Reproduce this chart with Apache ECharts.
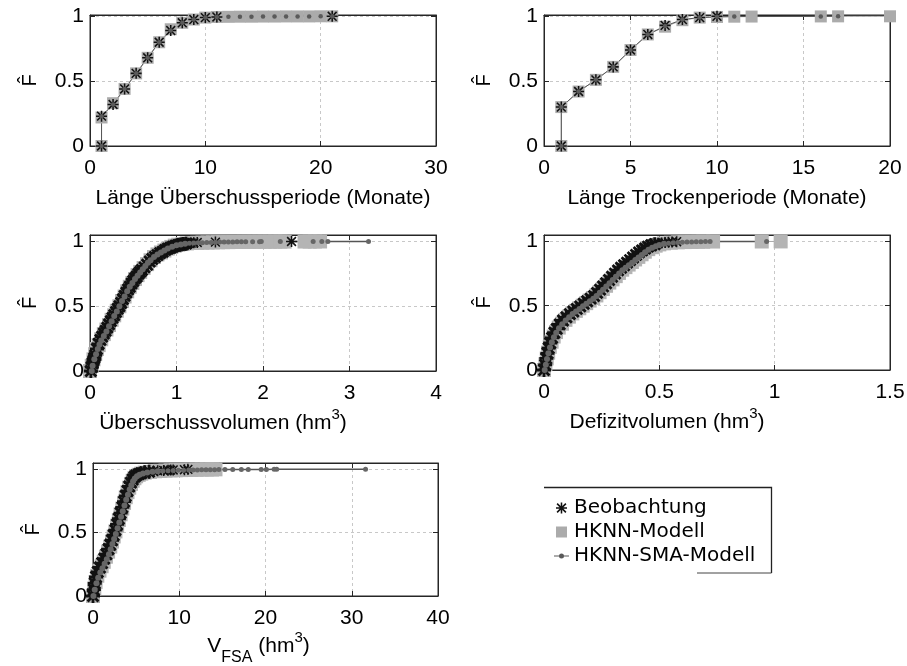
<!DOCTYPE html>
<html><head><meta charset="utf-8">
<script src="https://cdn.jsdelivr.net/npm/echarts@6/dist/echarts.min.js"></script>
<style>html,body{margin:0;padding:0;background:#fff}#c{width:907px;height:666px}</style>
</head><body><div id="c"></div>
<script>
// ---------- data ----------
const legendNames = ['Beobachtung', 'HKNN-Modell', 'HKNN-SMA-Modell'];
const axisTitles = ['Länge Überschussperiode (Monate)', 'Länge Trockenperiode (Monate)', 'Überschussvolumen (hm{sup|3})', 'Defizitvolumen (hm{sup|3})', 'V{sub|FSA} (hm{sup|3})'];
const xMaxes = [30, 20, 4, 1.5, 40];
const xIntervals = [10, 5, 1, 0.5, 10];
const yMaxes = [1.01, 1.01, 1.05, 1.05, 1.05];

// Panel 1: Länge Überschussperiode
const obs1X = [1, 1, 2, 3, 4, 5, 6, 7, 8, 9, 10, 11, 21];
const obs1Y = [0, 0.23, 0.32, 0.44, 0.56, 0.68, 0.80, 0.89, 0.95, 0.975, 0.99, 0.995, 1];
const hknn1X = [1, 1, 2, 3, 4, 5, 6, 7, 8, 9, 10, 11, 12, 13, 14, 15, 16, 17, 18, 19, 20, 21];
const hknn1Y = [0, 0.22, 0.33, 0.44, 0.56, 0.68, 0.80, 0.90, 0.95, 0.975, 0.99, 0.995, 0.996, 0.997, 0.997, 0.998, 0.998, 0.999, 0.999, 0.999, 1, 1];
const sma1X = [1, 1, 2, 3, 4, 5, 6, 7, 8, 9, 10, 11, 12, 13, 14, 15, 16, 17, 18, 19, 20, 21];
const sma1Y = [0, 0.23, 0.32, 0.44, 0.56, 0.68, 0.80, 0.89, 0.95, 0.975, 0.99, 0.995, 0.996, 0.997, 0.997, 0.998, 0.998, 0.999, 0.999, 0.999, 1, 1];

// Panel 2: Länge Trockenperiode
const obs2X = [1, 1, 2, 3, 4, 5, 6, 7, 8, 9, 10];
const obs2Y = [0, 0.30, 0.42, 0.51, 0.61, 0.74, 0.86, 0.93, 0.975, 0.99, 1];
const hknn2X = [1, 1, 2, 3, 4, 5, 6, 7, 8, 9, 10, 11, 12, 16, 17, 20];
const hknn2Y = [0, 0.30, 0.42, 0.51, 0.61, 0.74, 0.86, 0.92, 0.97, 0.99, 0.995, 0.997, 0.998, 0.999, 0.9995, 1];
const sma2X = [1, 1, 2, 3, 4, 5, 6, 7, 8, 9, 10, 11, 16, 17];
const sma2Y = [0, 0.30, 0.42, 0.51, 0.61, 0.74, 0.86, 0.925, 0.975, 0.99, 0.996, 0.998, 0.999, 1];

// Panel 3: Überschussvolumen
const obs3X = [0.01,0.02,0.03,0.04,0.05,0.06,0.08,0.10,0.12,0.14,0.16,0.18,0.20,0.22,0.24,0.26,0.28,0.30,0.32,0.34,0.36,0.38,0.40,0.42,0.44,0.46,0.48,0.50,0.52,0.54,0.56,0.58,0.60,0.63,0.66,0.69,0.72,0.75,0.78,0.81,0.84,0.87,0.90,0.93,0.96,0.99,1.02,1.05,1.08,1.11,1.14,1.17,1.20,1.24,1.45,2.33];
const obs3Y = [0,0.03,0.06,0.08,0.10,0.12,0.17,0.21,0.24,0.265,0.29,0.31,0.335,0.36,0.385,0.41,0.43,0.455,0.48,0.50,0.525,0.555,0.58,0.605,0.63,0.65,0.675,0.695,0.715,0.73,0.75,0.765,0.78,0.80,0.82,0.845,0.865,0.88,0.895,0.91,0.92,0.935,0.945,0.952,0.96,0.967,0.972,0.977,0.98,0.983,0.986,0.988,0.99,0.992,0.995,1];
const hknn3X = [0.00,0.02,0.04,0.06,0.08,0.10,0.13,0.16,0.19,0.22,0.25,0.28,0.31,0.34,0.37,0.40,0.43,0.46,0.49,0.52,0.55,0.58,0.62,0.66,0.70,0.74,0.78,0.82,0.86,0.90,0.94,0.98,1.02,1.07,1.12,1.18,1.24,1.30,1.36,1.42,1.48,1.54,1.60,1.66,1.72,1.78,1.84,1.90,1.96,2.02,2.08,2.14,2.20,2.25,2.48,2.54,2.60,2.66];
const hknn3Y = [0,0.04,0.09,0.13,0.17,0.20,0.245,0.285,0.32,0.355,0.395,0.43,0.465,0.50,0.54,0.575,0.615,0.65,0.68,0.71,0.74,0.765,0.795,0.825,0.855,0.88,0.90,0.915,0.93,0.945,0.958,0.968,0.975,0.98,0.985,0.988,0.99,0.991,0.992,0.993,0.994,0.995,0.995,0.996,0.996,0.997,0.997,0.997,0.998,0.998,0.998,0.999,0.999,0.999,0.9995,0.9995,1,1];
const sma3X = [0.02,0.03,0.05,0.07,0.09,0.11,0.13,0.16,0.19,0.22,0.25,0.28,0.31,0.34,0.37,0.40,0.43,0.46,0.49,0.52,0.55,0.58,0.61,0.64,0.67,0.70,0.74,0.78,0.82,0.86,0.90,0.95,1.00,1.05,1.10,1.15,1.20,1.25,1.30,1.35,1.40,1.45,1.50,1.55,1.60,1.65,1.70,1.75,1.80,1.88,1.96,1.98,2.20,2.58,2.68,2.75,3.22];
const sma3Y = [0,0.04,0.09,0.13,0.17,0.205,0.235,0.27,0.305,0.345,0.385,0.425,0.46,0.50,0.54,0.575,0.615,0.65,0.68,0.71,0.735,0.76,0.785,0.81,0.835,0.855,0.88,0.90,0.915,0.93,0.945,0.96,0.97,0.977,0.982,0.986,0.988,0.99,0.991,0.992,0.993,0.994,0.995,0.995,0.996,0.996,0.997,0.997,0.998,0.998,0.998,0.999,0.999,0.999,1,1,1];

// Panel 4: Defizitvolumen
const obs4X = [0.000,0.005,0.010,0.015,0.020,0.027,0.035,0.045,0.055,0.068,0.082,0.097,0.112,0.127,0.142,0.157,0.172,0.187,0.202,0.217,0.230,0.243,0.256,0.269,0.282,0.295,0.308,0.321,0.334,0.347,0.360,0.373,0.386,0.399,0.412,0.425,0.438,0.451,0.465,0.480,0.495,0.510,0.525,0.540,0.555,0.575];
const obs4Y = [0,0.04,0.09,0.13,0.17,0.21,0.25,0.29,0.32,0.355,0.385,0.41,0.435,0.455,0.475,0.495,0.515,0.535,0.555,0.575,0.60,0.625,0.65,0.675,0.70,0.725,0.75,0.775,0.795,0.815,0.835,0.855,0.875,0.895,0.915,0.93,0.945,0.96,0.97,0.978,0.985,0.988,0.991,0.994,0.996,0.998];
const hknn4X = [0.000,0.006,0.012,0.018,0.025,0.033,0.042,0.052,0.064,0.078,0.093,0.108,0.123,0.138,0.153,0.168,0.183,0.198,0.213,0.227,0.241,0.255,0.269,0.283,0.297,0.311,0.325,0.339,0.353,0.367,0.381,0.395,0.409,0.423,0.437,0.452,0.468,0.484,0.50,0.52,0.55,0.58,0.61,0.64,0.67,0.69,0.733,0.944,1.026];
const hknn4Y = [0,0.045,0.09,0.135,0.18,0.22,0.26,0.295,0.33,0.36,0.39,0.415,0.44,0.46,0.48,0.50,0.52,0.54,0.56,0.58,0.605,0.63,0.655,0.68,0.705,0.73,0.755,0.78,0.80,0.82,0.84,0.86,0.88,0.90,0.92,0.94,0.955,0.967,0.977,0.985,0.99,0.993,0.995,0.996,0.997,0.998,0.999,0.9995,1];
const sma4X = [0.003,0.008,0.013,0.019,0.026,0.034,0.043,0.053,0.065,0.079,0.094,0.109,0.124,0.139,0.154,0.169,0.184,0.199,0.214,0.228,0.242,0.256,0.270,0.284,0.298,0.312,0.326,0.340,0.354,0.368,0.382,0.396,0.410,0.424,0.438,0.453,0.469,0.485,0.50,0.52,0.54,0.56,0.58,0.60,0.62,0.64,0.66,0.68,0.70,0.72,0.965];
const sma4Y = [0,0.04,0.085,0.13,0.175,0.215,0.255,0.29,0.325,0.355,0.385,0.41,0.435,0.455,0.475,0.495,0.515,0.535,0.555,0.575,0.60,0.625,0.65,0.675,0.70,0.725,0.75,0.775,0.795,0.815,0.835,0.855,0.875,0.895,0.915,0.935,0.95,0.963,0.973,0.981,0.986,0.99,0.992,0.994,0.995,0.996,0.997,0.998,0.999,0.999,1];

// Panel 5: V_FSA
const obs5X = [0.0,0.1,0.2,0.35,0.55,0.8,1.05,1.3,1.55,1.8,2.0,2.2,2.4,2.6,2.8,3.0,3.2,3.4,3.6,3.8,4.0,4.2,4.4,4.6,4.8,5.0,5.3,5.6,6.0,6.5,7.0,7.5,8.2,8.7,9.0,9.3,10.6,11.0];
const obs5Y = [0,0.05,0.10,0.15,0.19,0.225,0.26,0.295,0.33,0.37,0.405,0.44,0.48,0.52,0.565,0.61,0.655,0.70,0.745,0.79,0.83,0.865,0.895,0.92,0.94,0.952,0.962,0.97,0.976,0.981,0.985,0.988,0.991,0.993,0.994,0.995,0.997,1];
const hknn5X = [0.0,0.15,0.3,0.5,0.75,1.0,1.25,1.5,1.75,2.0,2.2,2.4,2.6,2.8,3.0,3.2,3.4,3.6,3.8,4.0,4.2,4.4,4.6,4.8,5.0,5.3,5.6,6.0,6.6,7.2,7.8,8.4,9.0,9.6,10.2,10.8,11.4,12.0,12.6,13.2,13.8,14.2];
const hknn5Y = [0,0.06,0.11,0.16,0.2,0.235,0.27,0.31,0.35,0.39,0.43,0.47,0.51,0.555,0.6,0.645,0.69,0.735,0.78,0.82,0.855,0.885,0.91,0.93,0.945,0.957,0.966,0.974,0.98,0.985,0.988,0.99,0.992,0.993,0.994,0.995,0.996,0.997,0.998,0.999,0.999,1];
const sma5X = [0.05,0.2,0.4,0.6,0.85,1.1,1.35,1.6,1.85,2.05,2.25,2.45,2.65,2.85,3.05,3.25,3.45,3.65,3.85,4.05,4.25,4.45,4.65,4.85,5.1,5.4,5.8,6.3,6.9,7.5,8.1,8.7,9.3,9.9,10.5,11.1,11.6,12.1,12.6,13.1,13.6,14.1,14.6,15.3,16.2,17.2,18.0,19.5,20.1,21.0,21.3,31.6];
const sma5Y = [0,0.05,0.1,0.145,0.185,0.22,0.255,0.29,0.33,0.37,0.41,0.45,0.49,0.535,0.58,0.625,0.67,0.715,0.76,0.8,0.84,0.875,0.905,0.928,0.946,0.958,0.968,0.975,0.98,0.984,0.987,0.989,0.991,0.992,0.993,0.994,0.995,0.995,0.996,0.996,0.997,0.997,0.998,0.998,0.998,0.999,0.999,0.999,0.999,1,1,1];

// ---------- chart ----------
const STAR = 'path://M4.3,0L5.7,0L5.7,10L4.3,10Z M0,4.3L10,4.3L10,5.7L0,5.7Z M1.5,0.5L9.5,8.5L8.5,9.5L0.5,1.5Z M8.5,0.5L9.5,1.5L1.5,9.5L0.5,8.5Z';
const STAR_BOLD = 'path://M4,0L6,0L6,10L4,10Z M0,4L10,4L10,6L0,6Z M1.8,0.4L9.6,8.2L8.2,9.6L0.4,1.8Z M8.2,0.4L9.6,1.8L1.8,9.6L0.4,8.2Z';
const SQUARE = 'path://M0,0L10,0L10,10L0,10Z';
const DOTLINE = 'path://M0,6.4L15,6.4L15,7.6L0,7.6Z M10,7A2.5,2.5 0 1 1 5,7A2.5,2.5 0 1 1 10,7Z';
const FONT = '"Liberation Sans", Arial, Helvetica, sans-serif';

const zip = (xs, ys) => xs.map((x, i) => [x, ys[i]]);
const obsData = [zip(obs1X, obs1Y), zip(obs2X, obs2Y), zip(obs3X, obs3Y), zip(obs4X, obs4Y), zip(obs5X, obs5Y)];
const hknnData = [zip(hknn1X, hknn1Y), zip(hknn2X, hknn2Y), zip(hknn3X, hknn3Y), zip(hknn4X, hknn4Y), zip(hknn5X, hknn5Y)];
const smaData = [zip(sma1X, sma1Y), zip(sma2X, sma2Y), zip(sma3X, sma3Y), zip(sma4X, sma4Y), zip(sma5X, sma5Y)];

const grids = [
  {left: 90, top: 15, width: 346, height: 131},
  {left: 544, top: 15, width: 346, height: 131},
  {left: 90, top: 235, width: 346, height: 136},
  {left: 544, top: 235, width: 346, height: 135},
  {left: 93, top: 463, width: 345, height: 133}
];
const titleGap = [42, 42, 36, 36, 30];
const titleShift = [0, 0, 80, 100, 14];
const dense = [false, false, true, true, true];

const richTitle = {
  sup: {fontSize: 15, fontFamily: FONT, color: '#000', verticalAlign: 'middle', padding: [0, 0, 18, 0]},
  sub: {fontSize: 16, fontFamily: FONT, color: '#000', verticalAlign: 'middle', padding: [22, 0, 0, 0]}
};

// in the steep (dense) part of the curves the stars are drawn bolder to form the solid band
const inBand = v => v[1] < 0.985;

const xAxes = [], yAxes = [], series = [];
grids.forEach((g, i) => {
  xAxes.push({
    gridIndex: i, type: 'value', min: 0, max: xMaxes[i], interval: xIntervals[i],
    axisLine: {show: true, onZero: false, lineStyle: {color: '#262626', width: 1}},
    axisTick: {show: true, inside: true, length: 5, lineStyle: {color: '#262626'}},
    axisLabel: {fontSize: 21, color: '#000', margin: 12, fontFamily: FONT},
    splitLine: {show: true, lineStyle: {type: [3, 3], color: '#c8c8c8', width: 1}},
    name: axisTitles[i], nameLocation: 'middle', nameGap: titleGap[i],
    nameTextStyle: {fontSize: 21, color: '#000', fontFamily: FONT, padding: [0, titleShift[i], 0, 0], rich: richTitle}
  });
  xAxes.push({
    gridIndex: i, type: 'value', position: 'top', min: 0, max: xMaxes[i], interval: xIntervals[i],
    axisLine: {show: true, onZero: false, lineStyle: {color: '#262626', width: 1}},
    axisTick: {show: true, inside: true, length: 5, lineStyle: {color: '#262626'}},
    axisLabel: {show: false}, splitLine: {show: false}
  });
  yAxes.push({
    gridIndex: i, type: 'value', min: 0, max: yMaxes[i], interval: 0.5,
    axisLine: {show: true, onZero: false, lineStyle: {color: '#262626', width: 1}},
    axisTick: {show: true, inside: true, length: 5, lineStyle: {color: '#262626'}},
    axisLabel: {fontSize: 21, color: '#000', margin: 6, fontFamily: FONT, showMaxLabel: false},
    splitLine: {show: true, lineStyle: {type: [3, 3], color: '#c8c8c8', width: 1}},
    name: 'F\u0302', nameLocation: 'middle', nameRotate: 90, nameGap: 50,
    nameTextStyle: {fontSize: 20, color: '#000', fontFamily: FONT}
  });
  yAxes.push({
    gridIndex: i, type: 'value', position: 'right', min: 0, max: yMaxes[i], interval: 0.5,
    axisLine: {show: true, onZero: false, lineStyle: {color: '#262626', width: 1}},
    axisTick: {show: true, inside: true, length: 5, lineStyle: {color: '#262626'}},
    axisLabel: {show: false}, splitLine: {show: false}
  });
  const xi = 2 * i, yi = 2 * i, d = dense[i];
  series.push({
    name: 'HKNN-Modell', type: 'line', xAxisIndex: xi, yAxisIndex: yi, data: hknnData[i],
    symbol: 'rect', symbolSize: d ? 14 : 12, showAllSymbol: true, clip: false,
    itemStyle: {color: d ? '#b4b4b4' : '#ababab', borderWidth: 0},
    lineStyle: {color: '#ababab', width: 1}
  });
  series.push({
    name: 'Beobachtung', type: 'line', xAxisIndex: xi, yAxisIndex: yi, data: obsData[i],
    symbol: d ? (v => inBand(v) ? STAR_BOLD : STAR) : STAR,
    symbolSize: d ? (v => inBand(v) ? 14 : 11) : 11,
    showAllSymbol: true, clip: false,
    itemStyle: {color: '#111111', borderWidth: 0},
    lineStyle: {width: 0, opacity: 0}
  });
  series.push({
    name: 'HKNN-SMA-Modell', type: 'line', xAxisIndex: xi, yAxisIndex: yi, data: smaData[i],
    symbol: 'circle', symbolSize: d ? (v => inBand(v) ? 6 : 5) : 4.5, showAllSymbol: true, clip: false,
    itemStyle: {color: d ? '#666666' : '#5a5a5a', borderWidth: 0},
    lineStyle: {color: '#555555', width: d ? 1.5 : 1}
  });
});

const chart = echarts.init(document.getElementById('c'), null, {renderer: 'canvas'});
chart.setOption({
  animation: false,
  backgroundColor: '#ffffff',
  grid: grids.map(g => Object.assign({show: true, borderColor: '#262626', borderWidth: 1, outerBoundsMode: 'none', containLabel: false}, g)),
  xAxis: xAxes,
  yAxis: yAxes,
  legend: {
    orient: 'vertical', left: 554, top: 498, padding: 0,
    itemWidth: 15, itemHeight: 11, itemGap: 4, selectedMode: false,
    textStyle: {fontSize: 20, color: '#000', fontFamily: '"DejaVu Sans", sans-serif'},
    data: [
      {name: legendNames[0], icon: STAR},
      {name: legendNames[1], icon: SQUARE},
      {name: legendNames[2], icon: DOTLINE}
    ]
  },
  graphic: [
    {type: 'polyline', shape: {points: [[544, 487.5], [771.5, 487.5], [771.5, 573]]}, style: {stroke: '#222', lineWidth: 1.3, fill: null}},
    {type: 'line', shape: {x1: 697, y1: 573, x2: 771.5, y2: 573}, style: {stroke: '#444', lineWidth: 1}}
  ],
  series: series
});
</script>
</body></html>
